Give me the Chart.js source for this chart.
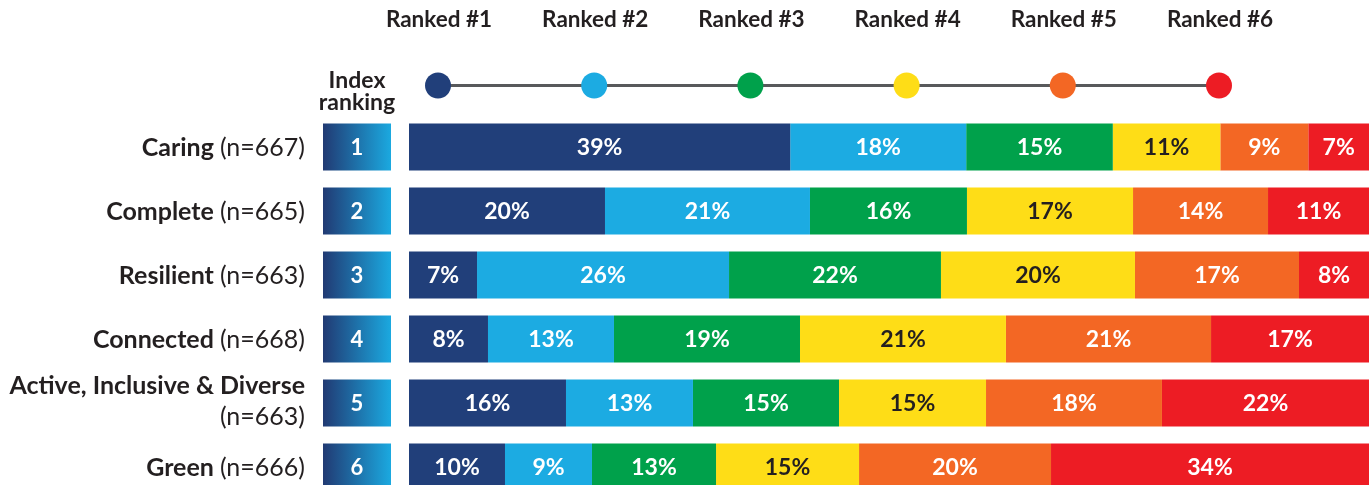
<!DOCTYPE html>
<html><head><meta charset="utf-8">
<script src="https://cdn.jsdelivr.net/npm/chart.js@4.4.1/dist/chart.umd.min.js"></script>
<style>
html,body{margin:0;padding:0;width:1369px;height:485px;overflow:hidden;background:#fff}
#wrap{position:relative;width:1369px;height:500px}
</style>
</head><body><div id="wrap"><canvas id="c"></canvas></div>
<script>
// ---- data ----
const categories = ['Caring', 'Complete', 'Resilient', 'Connected', 'Active, Inclusive & Diverse', 'Green'];
const sampleSizes = ['(n=667)', '(n=665)', '(n=663)', '(n=668)', '(n=663)', '(n=666)'];
const indexRanks = ['1', '2', '3', '4', '5', '6'];
const rankLabels = ['Ranked #1', 'Ranked #2', 'Ranked #3', 'Ranked #4', 'Ranked #5', 'Ranked #6'];
const ranked1 = [39, 20.05, 6.96, 8.08, 16.06, 9.82];
const ranked2 = [18, 20.97, 25.78, 12.89, 12.99, 8.9];
const ranked3 = [15, 16.06, 21.68, 19.03, 14.94, 12.69];
const ranked4 = [11, 16.99, 19.85, 21.07, 15.04, 14.63];
const ranked5 = [9, 13.81, 16.78, 20.98, 18.0, 19.64];
const ranked6 = [7, 11.1, 8.4, 16.9, 22, 34.3];

const colors = ['#213F7A', '#1CABE2', '#00A14B', '#FEDD17', '#F36724', '#ED1C24'];
const labelColors = ['#FFFFFF', '#FFFFFF', '#FFFFFF', '#231F20', '#FFFFFF', '#FFFFFF'];
const FONT = 'Lato, "Open Sans", sans-serif';
const TEXT = '#231F20';

const series = [ranked1, ranked2, ranked3, ranked4, ranked5, ranked6];

const decor = {
  id: 'decor',
  afterDatasetsDraw(chart) {
    const ctx = chart.ctx;
    const area = chart.chartArea;
    chart.data.datasets.forEach((ds, di) => {
      const meta = chart.getDatasetMeta(di);
      meta.data.forEach((el, i) => {
        const p = el.getProps(['x', 'y', 'base'], true);
        const left = Math.min(p.x, p.base), right = Math.min(Math.max(p.x, p.base), area.right);
        const cx = (left + right) / 2;
        ctx.save();
        ctx.font = 'bold 23px ' + FONT;
        ctx.fillStyle = labelColors[di];
        ctx.textAlign = 'center';
        ctx.textBaseline = 'middle';
        ctx.fillText(Math.round(ds.data[i]) + '%', cx, p.y + 1);
        ctx.restore();
      });
    });
  },
  afterDraw(chart) {
    const ctx = chart.ctx;
    const yScale = chart.scales.y;
    const h = chart.getDatasetMeta(0).data[0].getProps(['height'], true).height;
    ctx.save();
    categories.forEach((cat, i) => {
      const y = yScale.getPixelForValue(i);
      const x0 = 323, w = 68;
      const g = ctx.createLinearGradient(x0, 0, x0 + w, 0);
      g.addColorStop(0, '#213A73');
      g.addColorStop(1, '#1BA9E0');
      ctx.fillStyle = g;
      ctx.fillRect(x0, y - h / 2, w, h);
      ctx.fillStyle = '#FFFFFF';
      ctx.font = 'bold 22px ' + FONT;
      ctx.textAlign = 'center';
      ctx.textBaseline = 'middle';
      ctx.fillText(indexRanks[i], x0 + w / 2, y + 1);

      ctx.fillStyle = TEXT;
      ctx.textAlign = 'right';
      const rx = 305;
      const reg = '25px ' + FONT;
      const bold = 'bold 25px ' + FONT;
      ctx.font = reg;
      const nW = ctx.measureText(sampleSizes[i]).width;
      if (cat.length > 20) {
        ctx.font = bold;
        ctx.fillText(cat, rx, y - 17);
        ctx.font = reg;
        ctx.fillText(sampleSizes[i], rx, y + 14);
      } else {
        ctx.font = reg;
        ctx.fillText(sampleSizes[i], rx, y + 1);
        ctx.font = bold;
        ctx.fillText(cat, rx - nW - 6, y + 1);
      }
    });
    ctx.fillStyle = TEXT;
    ctx.font = 'bold 23px ' + FONT;
    ctx.textAlign = 'center';
    ctx.textBaseline = 'middle';
    ctx.fillText('Index', 357, 81);
    ctx.fillText('ranking', 357, 103);
    const lx0 = 438, step = 156.2, ly = 85.5;
    ctx.strokeStyle = '#58595B';
    ctx.lineWidth = 3;
    ctx.beginPath();
    ctx.moveTo(lx0, ly);
    ctx.lineTo(lx0 + step * (rankLabels.length - 1), ly);
    ctx.stroke();
    rankLabels.forEach((lab, i) => {
      const x = lx0 + step * i;
      ctx.fillStyle = colors[i];
      ctx.beginPath();
      ctx.arc(x, ly, 13, 0, Math.PI * 2);
      ctx.fill();
      ctx.fillStyle = TEXT;
      ctx.font = 'bold 22.5px ' + FONT;
      ctx.fillText(lab, x + 1, 20);
    });
    ctx.restore();
  }
};

new Chart(document.getElementById('c'), {
  type: 'bar',
  data: {
    labels: categories,
    datasets: series.map((d, i) => ({
      label: rankLabels[i],
      data: d,
      backgroundColor: colors[i],
      borderWidth: 0,
      categoryPercentage: 1,
      barPercentage: 47 / 64
    }))
  },
  options: {
    indexAxis: 'y',
    responsive: true,
    maintainAspectRatio: false,
    animation: false,
    events: [],
    layout: { padding: { left: 409, right: 0, top: 115, bottom: 1 } },
    scales: {
      x: { stacked: true, min: 0, max: 98.21, display: false },
      y: { stacked: true, display: false }
    },
    plugins: { legend: { display: false }, tooltip: { enabled: false } }
  },
  plugins: [decor]
});
</script>
</body></html>
